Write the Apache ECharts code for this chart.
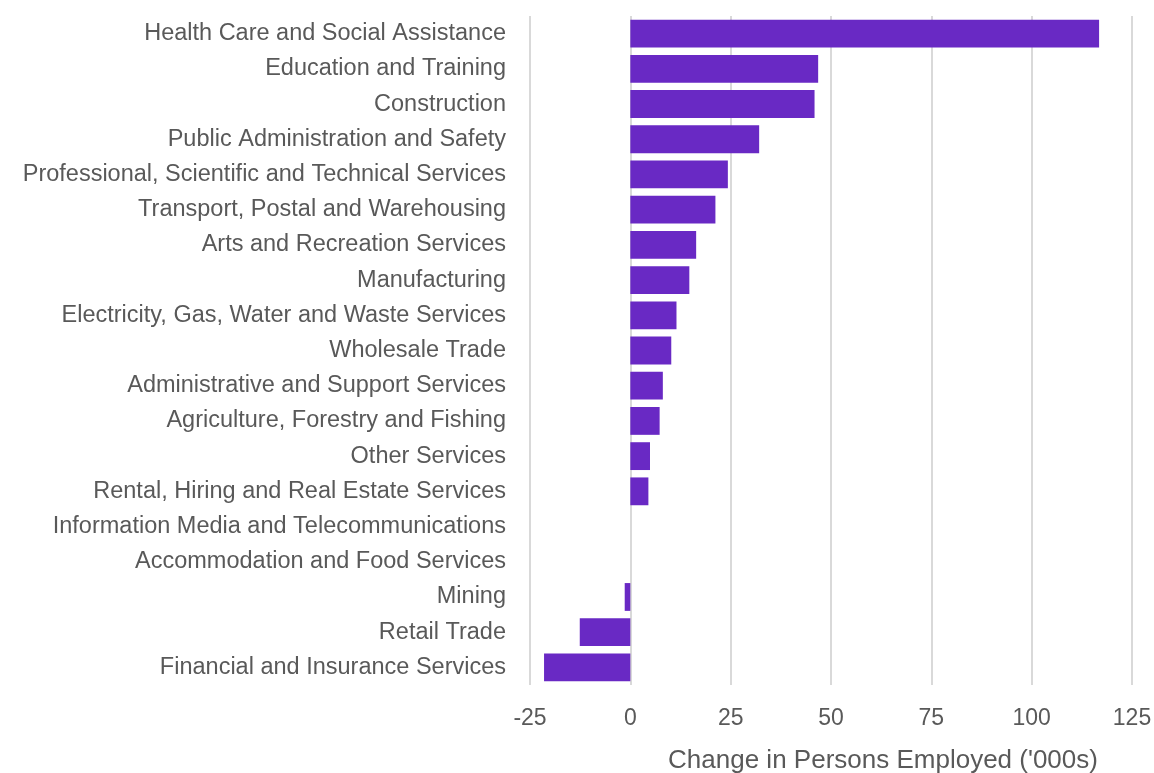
<!DOCTYPE html>
<html>
<head>
<meta charset="utf-8">
<script src="https://cdn.jsdelivr.net/npm/echarts@6/dist/echarts.min.js"></script>
<style>
  html, body { margin: 0; padding: 0; background: #ffffff; }
  #chart { width: 1154px; height: 773px; }
</style>
</head>
<body>
<div id="chart"></div>
<script>
// Industries, top to bottom
const industries = [
  'Health Care and Social Assistance',
  'Education and Training',
  'Construction',
  'Public Administration and Safety',
  'Professional, Scientific and Technical Services',
  'Transport, Postal and Warehousing',
  'Arts and Recreation Services',
  'Manufacturing',
  'Electricity, Gas, Water and Waste Services',
  'Wholesale Trade',
  'Administrative and Support Services',
  'Agriculture, Forestry and Fishing',
  'Other Services',
  'Rental, Hiring and Real Estate Services',
  'Information Media and Telecommunications',
  'Accommodation and Food Services',
  'Mining',
  'Retail Trade',
  'Financial and Insurance Services'
];

// Change in persons employed ('000s)
const employmentChange = [
  116.8, 46.8, 45.9, 32.1, 24.3, 21.2, 16.4, 14.7, 11.5, 10.2,
  8.1, 7.3, 4.9, 4.5, 0, 0, -1.4, -12.6, -21.5
];

// Value axis range
const axisMin = -25;
const axisMax = 125;
const axisStep = 25;
const axisTitle = "Change in Persons Employed ('000s)";

const chart = echarts.init(document.getElementById('chart'), null, { renderer: 'canvas' });

const textColor = '#595959';
const fontFamily = '"Liberation Sans", Arial, Helvetica, sans-serif';

chart.setOption({
  backgroundColor: '#ffffff',
  animation: false,
  grid: { left: 530, right: 22, top: 16, bottom: 88, containLabel: false, outerBoundsMode: 'none' },
  xAxis: {
    type: 'value',
    min: axisMin,
    max: axisMax,
    interval: axisStep,
    axisLine: { show: false },
    axisTick: { show: false },
    splitLine: { show: true, lineStyle: { color: '#d9d9d9', width: 2 } },
    axisLabel: { color: textColor, fontSize: 23, fontFamily: fontFamily, margin: 22 },
    name: axisTitle,
    nameLocation: 'middle',
    nameGap: 63,
    nameTextStyle: { color: textColor, fontSize: 26, fontFamily: fontFamily, padding: [0, 0, 0, 104] }
  },
  yAxis: {
    type: 'category',
    data: industries,
    inverse: true,
    axisLine: { show: false },
    axisTick: { show: false },
    splitLine: { show: false },
    axisLabel: { color: textColor, fontSize: 23.5, fontFamily: fontFamily, margin: 24, padding: [6, 0, 0, 0] }
  },
  series: [{
    type: 'bar',
    data: employmentChange,
    barCategoryGap: '21%',
    itemStyle: { color: '#6929c4' },
    emphasis: { disabled: true }
  }]
});
</script>
</body>
</html>
